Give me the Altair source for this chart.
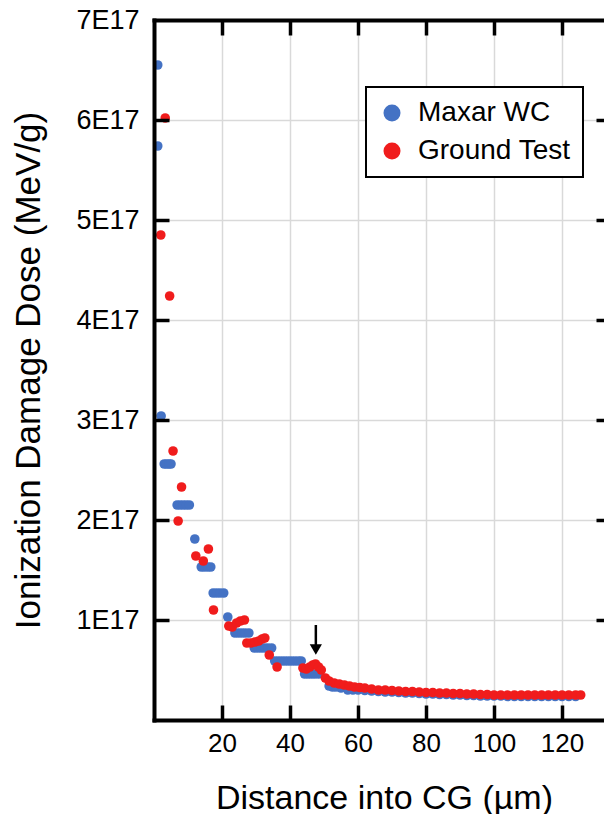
import altair as alt
import pandas as pd

UNIT = 1e17
series_names = ["Maxar WC", "Ground Test"]
series_colors = ["#4472C4", "#F01C1C"]

# Maxar WC (values of y in units of 1E17 MeV/g)
blue_x = [1.1, 1.1, 2.1, 3.0, 3.7, 4.4, 5.0, 6.8, 7.7, 8.6, 9.5, 10.4, 12.0,
          13.9, 14.8, 15.8, 16.7, 17.4, 18.4, 19.4, 20.5, 21.7,
          23.8, 24.8, 25.8, 26.8, 27.9, 29.5, 30.5, 31.5, 32.5, 33.5, 34.6,
          35.5, 36.5, 37.5, 38.5, 39.5, 40.5, 41.5, 42.5, 43.3,
          44.3, 45.3, 46.3, 47.3, 48.4,
          51.5, 52.5, 53.5, 55.0, 57.0, 58.5, 60.0, 62.0, 64.0, 66.0, 68.0, 70.0,
          72.0, 74.0, 76.0, 78.0, 80.0, 82.0, 84.0, 86.0, 88.0, 90.0, 92.0, 94.0,
          96.0, 98.0, 100.0, 102.0, 104.0, 106.0, 108.0, 110.0, 112.0, 114.0,
          116.0, 118.0, 120.0, 122.0, 124.0]
blue_y = [6.55, 5.74, 3.04, 2.56, 2.56, 2.56, 2.56, 2.15, 2.15, 2.15, 2.15, 2.15, 1.81,
          1.53, 1.53, 1.53, 1.53, 1.27, 1.27, 1.27, 1.27, 1.03,
          0.87, 0.87, 0.87, 0.87, 0.87, 0.72, 0.72, 0.72, 0.72, 0.72, 0.72,
          0.59, 0.59, 0.59, 0.59, 0.59, 0.59, 0.59, 0.59, 0.59,
          0.46, 0.46, 0.46, 0.46, 0.46,
          0.34, 0.33, 0.33, 0.32, 0.30, 0.30, 0.30, 0.295, 0.29, 0.285, 0.28, 0.28,
          0.275, 0.27, 0.27, 0.265, 0.26, 0.26, 0.255, 0.255, 0.25, 0.25, 0.245, 0.245,
          0.24, 0.24, 0.24, 0.24, 0.235, 0.235, 0.235, 0.235, 0.235, 0.235,
          0.235, 0.235, 0.235, 0.235, 0.235]

# Ground Test
red_x = [2.0, 3.3, 4.6, 5.6, 7.1, 8.1, 12.3, 14.5, 16.0, 17.5,
         22.0, 23.0, 24.3, 25.4, 26.6, 27.3, 28.5, 29.7, 30.8, 31.8, 32.6,
         33.9, 36.2, 43.8, 44.8, 45.8, 46.7, 47.5, 48.4, 49.2, 50.4,
         51.5, 53.0, 54.5, 56.0, 57.5, 59.0, 60.5, 62.0, 64.0, 66.0, 68.0, 70.0,
         72.0, 74.0, 76.0, 78.0, 80.0, 82.0, 84.0, 86.0, 88.0, 90.0, 92.0, 94.0,
         96.0, 98.0, 100.0, 102.0, 104.0, 106.0, 108.0, 110.0, 112.0, 114.0,
         116.0, 118.0, 120.0, 122.0, 124.0, 125.5]
red_y = [4.85, 6.02, 4.24, 2.69, 1.99, 2.33, 1.64, 1.59, 1.71, 1.10,
         0.94, 0.93, 0.97, 0.99, 1.00, 0.77, 0.77, 0.78, 0.79, 0.81, 0.82,
         0.65, 0.53, 0.52, 0.51, 0.53, 0.55, 0.56, 0.53, 0.50, 0.42,
         0.39, 0.37, 0.36, 0.35, 0.34, 0.33, 0.325, 0.32, 0.31, 0.30, 0.30, 0.295,
         0.29, 0.285, 0.285, 0.28, 0.275, 0.275, 0.27, 0.27, 0.265, 0.265, 0.26, 0.26,
         0.255, 0.255, 0.25, 0.25, 0.25, 0.25, 0.25, 0.25, 0.25, 0.25,
         0.25, 0.25, 0.25, 0.25, 0.25, 0.25]

x_ticks = [20, 40, 60, 80, 100, 120]
y_ticks = [1, 2, 3, 4, 5, 6, 7]
y_inner_ticks = [1, 2, 3, 4, 5, 6]

# arrow marking the feature near 48 um
arrow_x = [47.6]
arrow_top = [0.95]
arrow_bottom = [0.74]
arrow_tip = [0.705]

FONT = "Liberation Sans, Arial, sans-serif"

points_df = pd.DataFrame({
    "x": blue_x + red_x,
    "y": [v * UNIT for v in blue_y + red_y],
    "series": [series_names[0]] * len(blue_x) + [series_names[1]] * len(red_x),
})
arrow_df = pd.DataFrame({
    "ax": arrow_x,
    "atop": [v * UNIT for v in arrow_top],
    "abot": [v * UNIT for v in arrow_bottom],
    "atip": [v * UNIT for v in arrow_tip],
})

xscale = alt.Scale(domain=[0, 132.35], nice=False, zero=False)
yscale = alt.Scale(domain=[0, 7 * UNIT], nice=False, zero=False)

points = alt.Chart(points_df).mark_circle(size=92, opacity=1).encode(
    x=alt.X("x:Q", scale=xscale, axis=alt.Axis(
        orient="bottom", values=x_ticks, domain=False, ticks=False,
        grid=True, gridColor="#d9d9d9", gridWidth=1.5,
        labelFont=FONT, labelFontSize=26, labelColor="black", labelPadding=10,
        labelFlush=False, labelOverlap=False,
        title="Distance into CG (µm)", titleFont=FONT, titleFontSize=34,
        titleFontWeight="normal", titleColor="black",
        titleX=230, titleY=88, titleAlign="center", titleBaseline="alphabetic",
        zindex=0)),
    y=alt.Y("y:Q", scale=yscale, axis=alt.Axis(
        orient="left", values=[v * UNIT for v in y_ticks],
        labelExpr="format(datum.value / 1e17, 'd') + 'E17'",
        domain=False, ticks=False,
        grid=True, gridColor="#d9d9d9", gridWidth=1.5,
        labelFont=FONT, labelFontSize=27, labelColor="black", labelPadding=15,
        labelFlush=False, labelOverlap=False,
        title="Ionization Damage Dose (MeV/g)", titleFont=FONT, titleFontSize=35,
        titleFontWeight="normal", titleColor="black", titleAngle=270,
        titleX=-115, titleY=350, titleAlign="center", titleBaseline="alphabetic",
        zindex=0)),
    color=alt.Color("series:N", sort=series_names,
                    scale=alt.Scale(domain=series_names, range=series_colors),
                    legend=alt.Legend(
                        orient="none", legendX=212, legendY=67, title=None,
                        direction="vertical", padding=12,
                        strokeColor="black", fillColor="white",
                        symbolType="circle", symbolSize=290, symbolStrokeWidth=0,
                        labelFont=FONT, labelFontSize=28, labelColor="black",
                        labelOffset=12, rowPadding=10)),
)

shaft = alt.Chart(arrow_df).mark_rule(color="black", strokeWidth=2.5).encode(
    x=alt.X("ax:Q", scale=xscale, axis=alt.Axis(
        orient="bottom", offset=-700, values=x_ticks, labels=False, grid=False,
        domain=True, domainColor="black", domainWidth=4, domainCap="square",
        ticks=True, tickColor="black", tickWidth=3.5, tickSize=15,
        title=None, zindex=1)),
    y=alt.Y("atop:Q", scale=yscale, axis=alt.Axis(
        orient="right", offset=-450, values=[v * UNIT for v in y_inner_ticks],
        labels=False, grid=False,
        domain=True, domainColor="black", domainWidth=4, domainCap="square",
        ticks=True, tickColor="black", tickWidth=3.5, tickSize=15,
        title=None, zindex=1)),
    y2="abot:Q",
)

head = alt.Chart(arrow_df).mark_point(shape="triangle-down", filled=True, color="black",
                                      size=150, opacity=1).encode(
    x=alt.X("ax:Q", scale=xscale, axis=alt.Axis(
        orient="top", offset=-700, values=x_ticks, labels=False, grid=False,
        domain=True, domainColor="black", domainWidth=4, domainCap="square",
        ticks=True, tickColor="black", tickWidth=3.5, tickSize=15,
        title=None, zindex=1)),
    y=alt.Y("atip:Q", scale=yscale, axis=alt.Axis(
        orient="left", offset=-450, values=[v * UNIT for v in y_inner_ticks],
        labels=False, grid=False, domain=False,
        ticks=True, tickColor="black", tickWidth=3.5, tickSize=8,
        title=None, zindex=1)),
)

chart = alt.layer(points, shaft, head).resolve_axis(
    x="independent", y="independent"
).properties(
    width=450, height=700,
    autosize=alt.AutoSizeParams(type="none"),
    padding={"left": 154, "top": 20, "right": 0, "bottom": 94},
    background="white",
).configure_view(strokeWidth=0).configure_legend(strokeWidth=2)

chart.save("out.html", embed_options={"renderer": "svg", "actions": False})
